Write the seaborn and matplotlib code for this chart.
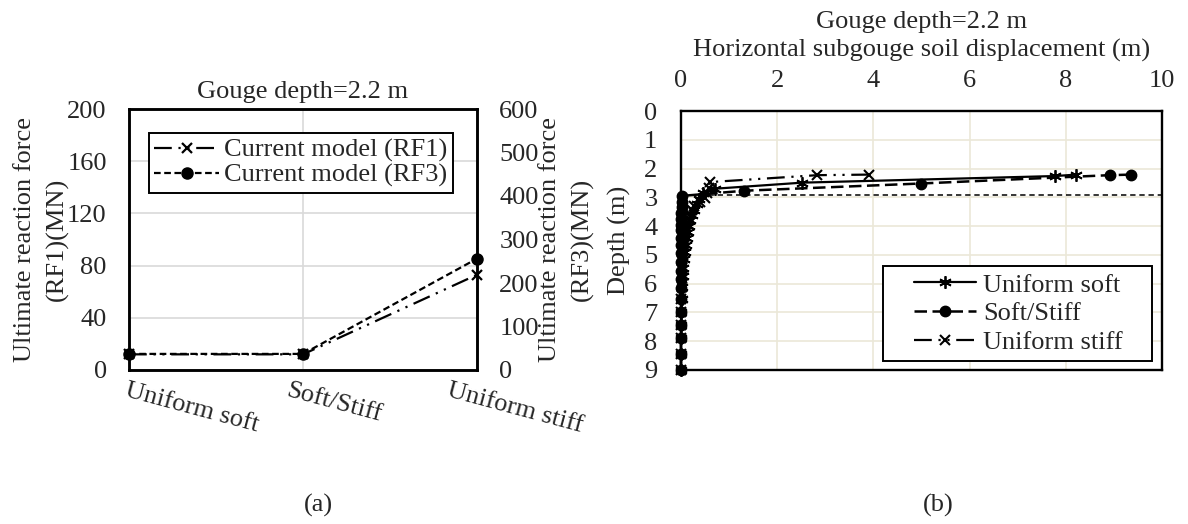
import numpy as np
import matplotlib
matplotlib.use("Agg")
import matplotlib.pyplot as plt
import matplotlib.transforms as mtransforms
from matplotlib.patches import Rectangle
import seaborn as sns

# ---- Panel (a): ultimate reaction force per soil profile ----
categories = ["Uniform soft", "Soft/Stiff", "Uniform stiff"]
rf1_mn = [12, 12, 73]     # left axis
rf3_mn = [37, 37, 256]    # right axis

# ---- Panel (b): horizontal subgouge soil displacement profiles ----
soft_disp = [8.22, 7.78, 2.52, 0.71, 0.46, 0.38, 0.33, 0.26, 0.22, 0.19,
             0.16, 0.14, 0.12, 0.10, 0.08, 0.06, 0.05, 0.04, 0.03, 0.02,
             0.01, 0.01, 0.0, 0.0, 0.0]
soft_depth = [2.21, 2.26, 2.49, 2.70, 2.86, 3.05, 3.22, 3.43, 3.62, 3.80,
              4.00, 4.20, 4.42, 4.65, 4.90, 5.15, 5.45, 5.75, 6.10, 6.55,
              7.00, 7.45, 7.90, 8.45, 9.00]

layered_disp = [9.36, 8.91, 4.98, 1.32, 0.02, 0.02, 0.02, 0.01, 0.01, 0.01,
                0.01, 0.01, 0.0, 0.0, 0.0, 0.0, 0.0, 0.0, 0.0, 0.0,
                0.0, 0.0, 0.0, 0.0]
layered_depth = [2.21, 2.23, 2.52, 2.77, 2.95, 3.15, 3.35, 3.55, 3.75, 3.95,
                 4.15, 4.40, 4.65, 4.95, 5.25, 5.55, 5.85, 6.15, 6.55, 7.00,
                 7.45, 7.90, 8.45, 9.00]

stiff_disp = [3.91, 2.83, 0.60, 0.58, 0.54, 0.50, 0.40, 0.26, 0.23, 0.19,
              0.15, 0.12, 0.11, 0.09, 0.08, 0.07, 0.06, 0.05, 0.04, 0.03,
              0.03, 0.02, 0.02, 0.01, 0.01, 0.0, 0.0, 0.0, 0.0]
stiff_depth = [2.21, 2.23, 2.47, 2.67, 2.85, 3.01, 3.15, 3.30, 3.45, 3.59,
               3.74, 3.88, 4.02, 4.16, 4.33, 4.50, 4.67, 4.85, 5.02, 5.20,
               5.45, 5.75, 6.10, 6.55, 7.00, 7.45, 7.90, 8.45, 9.00]

interface_depth = 2.92
profile_labels = ["Uniform soft", "Soft/Stiff", "Uniform stiff"]
force_labels = ["Current model (RF1)", "Current model (RF3)"]

sns.set_theme(style="white")
plt.rcParams["font.family"] = ["Liberation Serif", "DejaVu Serif"]
FS = 19

W, H = 1188, 524
fig = plt.figure(figsize=(W / 100, H / 100), dpi=100)


def frame(ax, lw=1.8):
    for sp in ax.spines.values():
        sp.set_visible(True)
        sp.set_color("black")
        sp.set_linewidth(lw)


# ================= (a) =================
ax1 = fig.add_axes([129 / W, 1 - 370 / H, 348 / W, 261 / H])
ax2 = ax1.twinx()
pos = np.arange(len(categories))

sns.lineplot(x=pos, y=rf1_mn, ax=ax1, sort=False, estimator=None,
             color="black", linewidth=1.6, linestyle=(0, (8, 3, 1, 3, 1, 3)),
             marker="x", markersize=7, markeredgecolor="black",
             markeredgewidth=1.6, clip_on=False, zorder=3)
sns.lineplot(x=pos, y=rf3_mn, ax=ax2, sort=False, estimator=None,
             color="black", linewidth=1.6, linestyle=(0, (3, 1.6)),
             marker="o", markersize=8, markerfacecolor="black",
             markeredgecolor="black", markeredgewidth=1, clip_on=False, zorder=3)

ax1.set_xlim(0, 2)
ax1.set_ylim(0, 200)
ax1.set_yticks(np.arange(0, 201, 40))
ax2.set_ylim(0, 600)
ax2.set_yticks(np.arange(0, 601, 100))
ax1.set_xticks(pos)

ax1.grid(True, color="#d9d9d9", linewidth=1.2)
ax1.set_axisbelow(True)
ax1.tick_params(axis="y", length=0, pad=16, labelsize=FS)
ax1.tick_params(axis="x", length=0, pad=7, labelsize=FS)
ax2.tick_params(axis="y", length=0, pad=16, labelsize=FS)
frame(ax1)
frame(ax2)

ax1.set_xticklabels(categories, rotation=-15, ha="center", va="top")
for lab, dx in zip(ax1.get_xticklabels(), [63, 31, 38]):
    lab.set_transform(lab.get_transform() +
                      mtransforms.ScaledTranslation(dx / 100, 0, fig.dpi_scale_trans))

ax1.set_ylabel("Ultimate reaction force\n(RF1)(MN)", fontsize=FS,
               linespacing=1.55, va="center")
ax1.yaxis.set_label_coords((41.5 - 129) / 348, 0.5)
ax2.set_ylabel("Ultimate reaction force\n(RF3)(MN)", fontsize=FS,
               linespacing=1.55, va="center", rotation=90)
ax2.yaxis.set_label_coords((566.5 - 129) / 348, 0.5)
ax1.set_xlabel("")
ax1.set_title("Gouge depth=2.2 m", fontsize=FS, y=(370 - 92) / 261,
              va="center", pad=0)

leg_a = ax2.legend([ax1.lines[0], ax2.lines[0]], force_labels,
                   loc="upper left", bbox_to_anchor=(0.0575, 0.908),
                   fontsize=FS, frameon=True, fancybox=False, framealpha=1,
                   edgecolor="black", borderpad=0.2, labelspacing=0.05,
                   handlelength=2.45, handletextpad=0.2, borderaxespad=0)
leg_a.get_frame().set_linewidth(1.4)

# ================= (b) =================
ax3 = fig.add_axes([681 / W, 1 - 370 / H, 481 / W, 259 / H])

sns.lineplot(x=soft_disp, y=soft_depth, ax=ax3, sort=False, estimator=None,
             color="black", linewidth=1.6, linestyle="-",
             marker=(6, 2, 0), markersize=9, markeredgecolor="black",
             markeredgewidth=1.3, clip_on=False, zorder=4)
sns.lineplot(x=layered_disp, y=layered_depth, ax=ax3, sort=False, estimator=None,
             color="black", linewidth=1.8, linestyle=(0, (5, 2.2)),
             marker="o", markersize=7.5, markerfacecolor="black",
             markeredgecolor="black", markeredgewidth=1, clip_on=False, zorder=3)
sns.lineplot(x=stiff_disp, y=stiff_depth, ax=ax3, sort=False, estimator=None,
             color="black", linewidth=1.6, linestyle=(0, (8, 3, 1, 3, 1, 3)),
             marker="x", markersize=7.5, markeredgecolor="black",
             markeredgewidth=1.5, clip_on=False, zorder=4)
ax3.axhline(interface_depth, color="black", linewidth=1.1,
            linestyle=(0, (3.5, 2.5)), zorder=2)

ax3.set_xlim(0, 10)
ax3.set_ylim(9, 0)
ax3.set_xticks(np.arange(0, 11, 2))
ax3.set_yticks(np.arange(0, 10, 1))
ax3.xaxis.tick_top()
ax3.xaxis.set_label_position("top")
ax3.grid(True, color="#ebe8d8", linewidth=1.2)
ax3.set_axisbelow(True)
ax3.tick_params(axis="both", length=0, labelsize=FS)
ax3.tick_params(axis="y", pad=17)
ax3.tick_params(axis="x", pad=14)
frame(ax3, lw=1.7)

ax3.set_xlabel("Horizontal subgouge soil displacement (m)", fontsize=FS, va="center")
ax3.xaxis.set_label_coords(0.5, (370 - 50) / 259)
ax3.set_title("Gouge depth=2.2 m", fontsize=FS, y=(370 - 22) / 259,
              va="center", pad=0)
ax3.set_ylabel("Depth (m)", fontsize=FS, va="center")
ax3.yaxis.set_label_coords((619 - 681) / 481, 0.5)

ax3.add_patch(Rectangle((0.42, 0.035), 0.559, 0.3665, transform=ax3.transAxes,
                        facecolor="white", edgecolor="black", linewidth=1.4,
                        zorder=6, clip_on=False))
leg_b = ax3.legend(ax3.lines[:3], profile_labels, loc="center left",
                   bbox_to_anchor=(0.485, 0.218), fontsize=FS, frameon=False,
                   labelspacing=0.2, handlelength=2.35, handletextpad=0.25,
                   borderpad=0, borderaxespad=0)
leg_b.set_zorder(7)

fig.text(318 / W, 1 - 505 / H, "(a)", fontsize=FS, ha="center", va="center")
fig.text(938 / W, 1 - 505 / H, "(b)", fontsize=FS, ha="center", va="center")

fig.savefig("out.png", dpi=100, facecolor="white")
